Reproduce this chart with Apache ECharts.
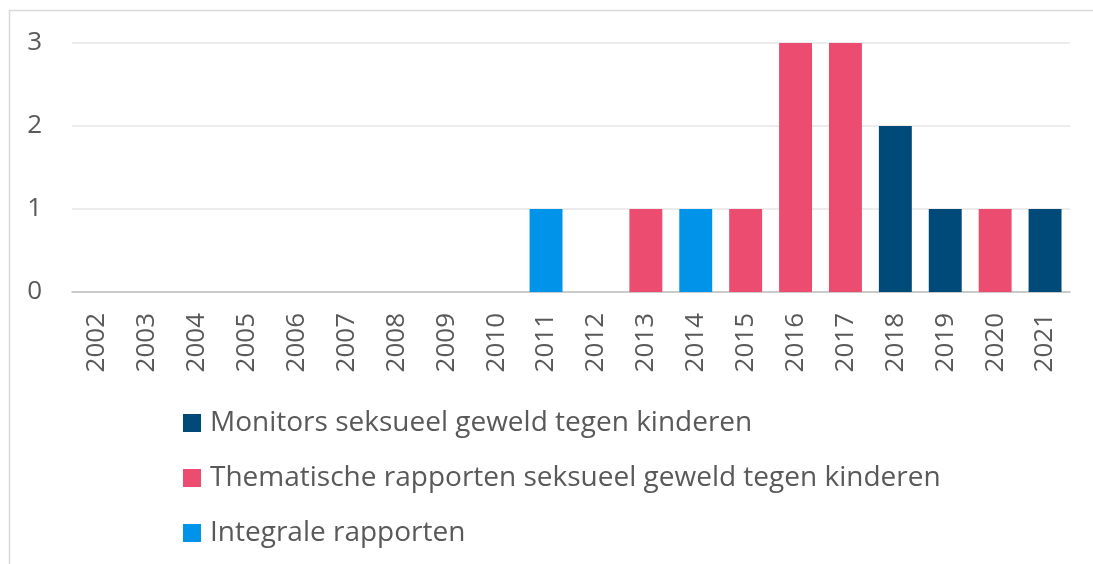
<!DOCTYPE html>
<html><head><meta charset="utf-8">
<script src="https://cdn.jsdelivr.net/npm/echarts@6/dist/echarts.min.js"></script>
<style>html,body{margin:0;padding:0;background:#fff}#c{width:1093px;height:564px}</style>
</head><body><div id="c"></div>
<script>
const categories = ['2002','2003','2004','2005','2006','2007','2008','2009','2010','2011','2012','2013','2014','2015','2016','2017','2018','2019','2020','2021'];
const monitors =   [null,null,null,null,null,null,null,null,null,null,null,null,null,null,null,null,2,1,null,1];
const thematische =[null,null,null,null,null,null,null,null,null,null,null,1,null,1,3,3,null,null,1,null];
const integrale =  [null,null,null,null,null,null,null,null,null,1,null,null,1,null,null,null,null,null,null,null];
const yTicks = [0,1,2,3];
const seriesNames = ['Monitors seksueel geweld tegen kinderen','Thematische rapporten seksueel geweld tegen kinderen','Integrale rapporten'];
const colors = ['#004A7A','#EB4C70','#0093EA'];
const font = 'Open Sans';
const chart = echarts.init(document.getElementById('c'));
chart.setOption({
  animation:false,
  graphic:[{type:'rect',shape:{x:9.5,y:10.5,width:1100,height:600},style:{fill:'none',stroke:'#D9D9D9',lineWidth:1.5},silent:true}],
  grid:{left:72,right:23,top:43,bottom:272,containLabel:false},
  legend:{orient:'vertical',left:178,top:403,bottom:0,itemWidth:18,itemHeight:18,itemGap:25,icon:'rect',
    textStyle:{fontFamily:font,fontSize:28,lineHeight:30,color:'#595959',padding:[0,0,0,4]},data:seriesNames},
  xAxis:{type:'category',data:categories,
    axisLine:{lineStyle:{color:'#BFBFBF',width:1.5}},axisTick:{show:false},
    axisLabel:{rotate:90,fontFamily:font,fontSize:26,color:'#595959',margin:21,interval:0}},
  yAxis:{type:'value',min:0,max:3,interval:1,
    axisLine:{show:false},axisTick:{show:false},
    splitLine:{lineStyle:{color:'#E6E6E6',width:1.5}},
    axisLabel:{fontFamily:font,fontSize:26,color:'#595959',margin:30,
      formatter:v=>yTicks.includes(v)?String(v):''}},
  series:[
    {name:seriesNames[0],type:'bar',stack:'a',data:monitors,barWidth:'66%',itemStyle:{color:colors[0]}},
    {name:seriesNames[1],type:'bar',stack:'a',data:thematische,barWidth:'66%',itemStyle:{color:colors[1]}},
    {name:seriesNames[2],type:'bar',stack:'a',data:integrale,barWidth:'66%',itemStyle:{color:colors[2]}}
  ]
});
</script></body></html>
